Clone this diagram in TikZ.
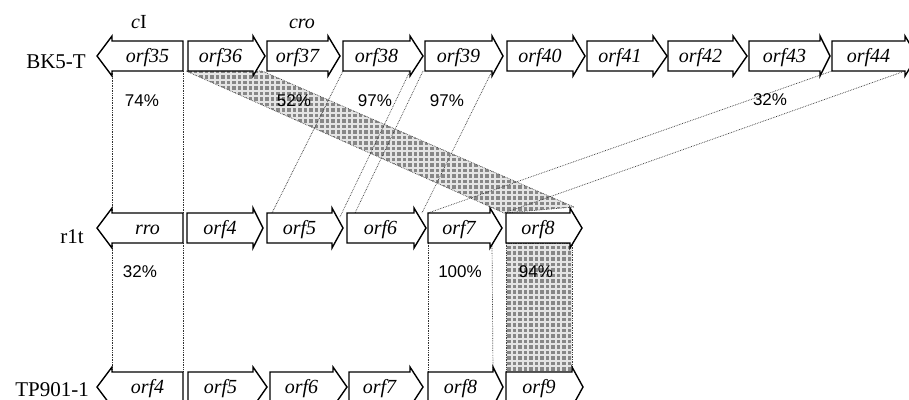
\documentclass[tikz,border=0pt]{standalone}
\usepackage{fontspec}
\setmainfont{Liberation Serif}
\setsansfont{Liberation Sans}
\usetikzlibrary{patterns,calc}

% grey blob mesh used for the shaded similarity bands
\pgfdeclarepatternformonly{meshdots}{\pgfqpoint{-1pt}{-1pt}}{\pgfqpoint{6.5pt}{6.5pt}}{\pgfqpoint{5.5pt}{5.5pt}}%
  {\pgfpathrectangle{\pgfqpoint{1.0pt}{1.0pt}}{\pgfqpoint{3.5pt}{3.5pt}}\pgfusepath{fill}}

\tikzset{
  genebox/.style={draw=black, fill=white, line width=1.4pt, line join=miter},
  genetext/.style={inner sep=0pt, outer sep=0pt, minimum height=30pt,
    text height=14pt, text depth=2pt, font=\fontsize{20}{22}\selectfont\itshape},
  strain/.style={anchor=base east, inner sep=0pt, font=\fontsize{21}{24}\selectfont},
  genename/.style={anchor=base, inner sep=0pt, font=\fontsize{20}{22}\selectfont},
  pct/.style={anchor=base, inner sep=0pt, font=\sffamily\fontsize{17}{19}\selectfont},
  link/.style={densely dotted, line width=0.7pt, draw=black!80},
  band/.style={preaction={fill=gray!20}, pattern=meshdots, pattern color=black!47,
    draw=black!75, densely dotted, line width=0.7pt},
}

% right-pointing gene: name, body left, body right, tip, centre y, label
\newcommand\rgene[6]{%
  \draw[genebox] (#2,#5+15) -- (#2,#5-15) -- (#3,#5-15) -- (#3,#5-20) -- (#4,#5)
    -- (#3,#5+20) -- (#3,#5+15) -- cycle;
  \node[genetext, minimum width={(#3-#2)*1pt}] (#1) at ({(#2+#3)/2},#5) {#6};}
% left-pointing gene: name, body left, body right, tip, centre y, label
\newcommand\lgene[6]{%
  \draw[genebox] (#3,#5-15) -- (#2,#5-15) -- (#2,#5-20) -- (#4,#5) -- (#2,#5+20)
    -- (#2,#5+15) -- (#3,#5+15) -- cycle;
  \node[genetext, minimum width={(#3-#2)*1pt}] (#1) at ({(#2+#3)/2},#5) {#6};}

\begin{document}
\begin{tikzpicture}[x=1pt, y=-1pt]
\fill[white] (0,0) rectangle (909,399);
\useasboundingbox (0,0) rectangle (909,399);

% invisible body nodes first, so the bands and links can refer to them
\begin{scope}
\foreach \n/\l/\r in {g35/112/183, g36/188/253, g37/267/328, g38/343/410, g39/425/492,
                      g40/507/573, g41/587/653, g42/668/733, g43/749/820, g44/832/905}
  \node[genetext, minimum width={(\r-\l)*1pt}] (\n) at ({(\l+\r)/2},56) {};
\foreach \n/\l/\r in {rro/112/183, r4/187/253, r5/267/332, r6/347/414, r7/428/490, r8/506/570}
  \node[genetext, minimum width={(\r-\l)*1pt}] (\n) at ({(\l+\r)/2},228) {};
\foreach \n/\l/\r in {t4/112/183, t5/188/253, t6/270/333, t7/349/410, t8/428/493, t9/506/572}
  \node[genetext, minimum width={(\r-\l)*1pt}] (\n) at ({(\l+\r)/2},387) {};
\end{scope}

% shaded bands
\path[band] ($(g36.south west)+(-2,0)$) -- ($(g36.south east)+(9,0)$)
  -- ($(r8.north east)+(4,-6)$) -- ($(r8.north west)+(-2,0)$) -- cycle;
\path[band] (r8.south west) rectangle (t9.north east);

% dotted correspondence lines
\draw[link] (g35.south west) -- (rro.north west);
\draw[link] (g35.south east) -- (rro.north east);
\draw[link] (rro.south west) -- (t4.north west);
\draw[link] (rro.south east) -- (t4.north east);
\draw[link] (g38.south west) -- ($(r5.north west)+(5,0)$);
\draw[link] (g38.south east) -- ($(r5.north east)+(8,4)$);
\draw[link] ($(g39.south west)+(-2,0)$) -- ($(r6.north west)+(8,0)$);
\draw[link] (g39.south east) -- ($(r6.north east)+(8,0)$);
\draw[link] (g44.south west) -- (r7.north west);
\draw[link] (g44.south east) -- ($(r7.north east)+(14,0)$);
\draw[link] (r7.south west) -- (t8.north west);
\draw[link] ($(r7.south east)+(2,0)$) -- (t8.north east);

% BK5-T
\lgene{g35}{112}{183}{97}{56}{orf35}
\rgene{g36}{188}{253}{265}{56}{orf36}
\rgene{g37}{267}{328}{340}{56}{orf37}
\rgene{g38}{343}{410}{423}{56}{orf38}
\rgene{g39}{425}{492}{503}{56}{orf39}
\rgene{g40}{507}{573}{585}{56}{orf40}
\rgene{g41}{587}{653}{667}{56}{orf41}
\rgene{g42}{668}{733}{747}{56}{orf42}
\rgene{g43}{749}{820}{830}{56}{orf43}
\rgene{g44}{832}{905}{917}{56}{orf44}

% r1t
\lgene{rro}{112}{183}{97}{228}{rro}
\rgene{r4}{187}{253}{263}{228}{orf4}
\rgene{r5}{267}{332}{343}{228}{orf5}
\rgene{r6}{347}{414}{426}{228}{orf6}
\rgene{r7}{428}{490}{502}{228}{orf7}
\rgene{r8}{506}{570}{582}{228}{orf8}

% TP901-1
\lgene{t4}{112}{183}{97}{387}{orf4}
\rgene{t5}{188}{253}{267}{387}{orf5}
\rgene{t6}{270}{333}{347}{387}{orf6}
\rgene{t7}{349}{410}{423}{387}{orf7}
\rgene{t8}{428}{493}{503}{387}{orf8}
\rgene{t9}{506}{572}{583}{387}{orf9}

% strain names
\node[strain] (sBK) at (86,68) {BK5-T};
\node[strain] (sR) at (84,243) {r1t};
\node[strain] (sTP) at (89,396) {TP901-1};

% gene names above BK5-T
\node[genename] (ncI) at (139,28) {\textit{c}I};
\node[genename] (ncro) at (302,28) {\textit{cro}};

% identities
\node[pct] (p74) at (142,106) {74\%};
\node[pct] (p52) at (294,106) {52\%};
\node[pct] (p97a) at (375,106) {97\%};
\node[pct] (p97b) at (447,106) {97\%};
\node[pct] (p32a) at (770,105) {32\%};
\node[pct] (p32b) at (140,277) {32\%};
\node[pct] (p100) at (460,277) {100\%};
\node[pct] (p94) at (536,277) {94\%};
\end{tikzpicture}
\end{document}
